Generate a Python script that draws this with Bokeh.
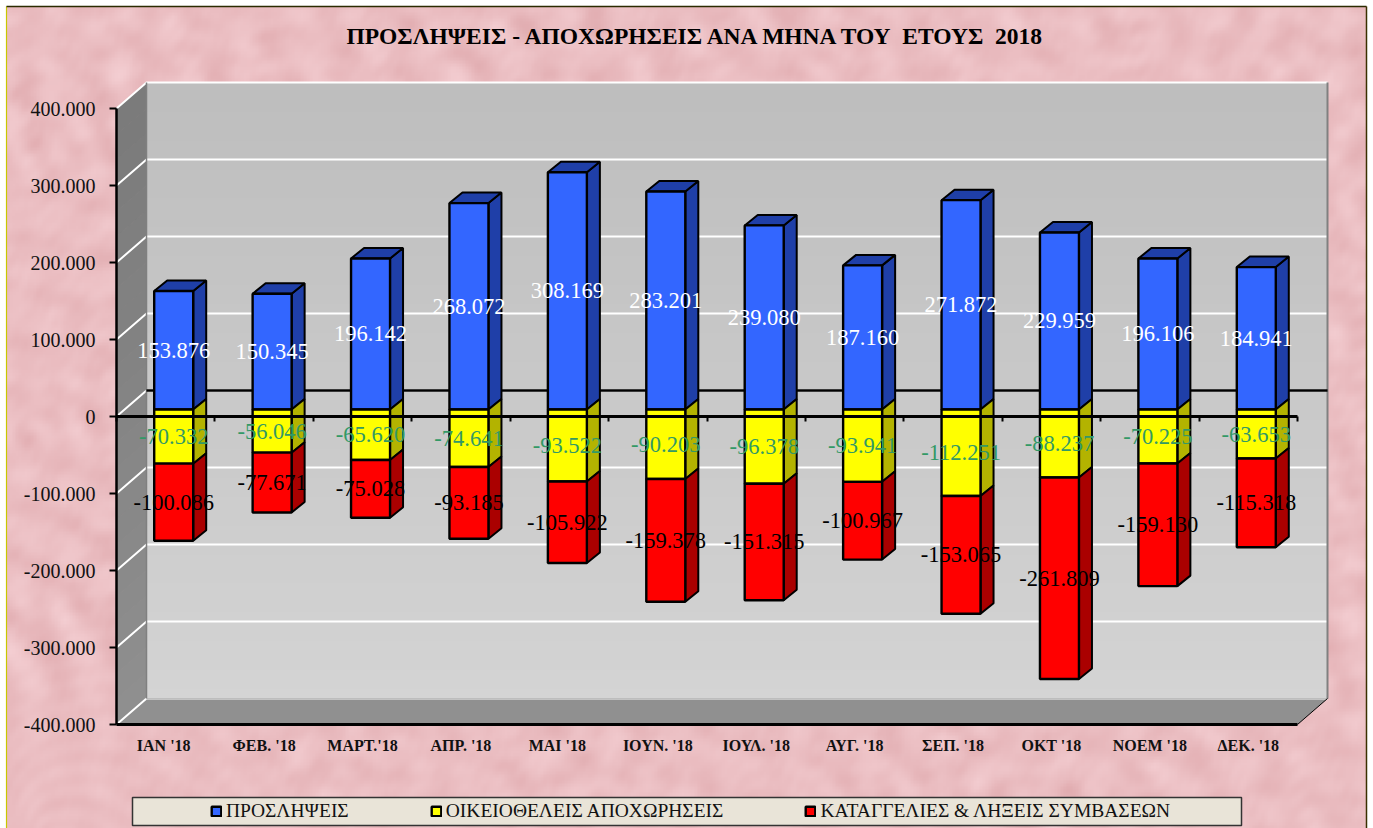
import numpy as np
from bokeh.plotting import figure
from bokeh.models import (Range1d, LinearAxis, FixedTicker, Legend, LegendItem,
                          ColumnDataSource, Label)
from bokeh.core.properties import value
from bokeh.embed import file_html
from bokeh.resources import INLINE

# ---------- data ----------
months = ["ΙΑΝ  '18", "ΦΕΒ. '18", "ΜΑΡΤ.'18", "ΑΠΡ. '18", "ΜΑΙ  '18", "ΙΟΥΝ. '18",
          "ΙΟΥΛ. '18", "ΑΥΓ. '18", "ΣΕΠ. '18", "ΟΚΤ '18", "ΝΟΕΜ '18", "ΔΕΚ. '18"]
hires = [153876, 150345, 196142, 268072, 308169, 283201, 239080, 187160, 271872, 229959, 196106, 184941]
voluntary = [-70332, -56046, -65620, -74641, -93522, -90203, -96378, -93941, -112251, -88237, -70225, -63653]
dismissals = [-100086, -77671, -75028, -93185, -105922, -159378, -151315, -100967, -153065, -261809, -159130, -115318]
y_ticks = [400000, 300000, 200000, 100000, 0, -100000, -200000, -300000, -400000]
y_tick_labels = ["400.000", "300.000", "200.000", "100.000", "0", "-100.000", "-200.000", "-300.000", "-400.000"]
series_names = ["ΠΡΟΣΛΗΨΕΙΣ", "ΟΙΚΕΙΟΘΕΛΕΙΣ ΑΠΟΧΩΡΗΣΕΙΣ", "ΚΑΤΑΓΓΕΛΙΕΣ & ΛΗΞΕΙΣ ΣΥΜΒΑΣΕΩΝ"]
title_text = "ΠΡΟΣΛΗΨΕΙΣ - ΑΠΟΧΩΡΗΣΕΙΣ ΑΝΑ ΜΗΝΑ ΤΟΥ  ΕΤΟΥΣ  2018"

# ---------- layout constants (picture pixels) ----------
W, H = 1373, 828
BG_L, BG_T, BG_R = 6, 6, 1366
X0_PX, Y0_PX = 116, 416          # front-left corner of the plot, y=0 line
PX_CAT, PX_100K = 98.417, 77.0
WALL_DX, WALL_DY = 30, 26
BAR_DX, BAR_DY = 8, 7
SIDE_DX, SIDE_DY = 13, 10.5
BAR_W = 39
SERIF = "Liberation Serif"


def ux(px):
    return px / PX_CAT


def uy(px):
    return px / PX_100K * 100000


def X(px):
    return 0.5 + ux(px - X0_PX)


def Y(px):
    return uy(Y0_PX - px)


p = figure(width=W, height=H, output_backend="svg", toolbar_location=None,
           x_range=Range1d(X(0), X(W)), y_range=Range1d(Y(H), Y(0)),
           x_axis_location=None, y_axis_location=None, min_border=0,
           background_fill_color="#FFFFFF", border_fill_color="#FFFFFF",
           outline_line_color=None)
p.grid.visible = False

# ---------- mottled paper background (deterministic texture) ----------
bw, bh = BG_R - BG_L, H - BG_T
th, tw = bh // 3, bw // 3
yy, xx = np.mgrid[0:th, 0:tw].astype(float) * 3
tex = np.zeros_like(xx)
for i in range(1, 61):
    ang = i * 2.39996
    wl = 9 + 55 * ((i * 0.618034) % 1.0)
    tex += np.sin((xx * np.cos(ang) + yy * np.sin(ang)) * 2 * np.pi / wl + i * 1.7) * (wl / 50.0)
tex = tex / np.abs(tex).max()
r = np.clip(235 + 11 * tex, 0, 255).astype(np.uint32)
g = np.clip(190 + 20 * tex, 0, 255).astype(np.uint32)
b = np.clip(194 + 20 * tex, 0, 255).astype(np.uint32)
img = (255 << 24) | (b << 16) | (g << 8) | r
p.image_rgba(image=[img], x=X(BG_L), y=Y(H), dw=ux(bw), dh=uy(bh))

# ---------- back wall with vertical gradient ----------
y_lo, y_hi = min(y_ticks), max(y_ticks)
back_dx, back_dy = ux(WALL_DX), uy(WALL_DY)
x_lo, x_hi = 0.5, 12.5
levels = np.linspace(0xD4, 0xBE, 64).astype(np.uint32)
wall = np.tile(((255 << 24) | (levels << 16) | (levels << 8) | levels)[:, None], (1, 4))
p.image_rgba(image=[wall], x=x_lo + back_dx, y=y_lo + back_dy, dw=x_hi - x_lo, dh=y_hi - y_lo)

# left wall in bands, floor
n_bands = 24
edges = np.linspace(y_hi, y_lo, n_bands + 1)
shades = np.linspace(0x7B, 0x8F, n_bands).astype(int)
p.patches(xs=[[x_lo, x_lo + back_dx, x_lo + back_dx, x_lo] for _ in range(n_bands)],
          ys=[[edges[i], edges[i] + back_dy, edges[i + 1] + back_dy, edges[i + 1]] for i in range(n_bands)],
          fill_color=["#%02x%02x%02x" % (s, s, s) for s in shades],
          line_color=["#%02x%02x%02x" % (s, s, s) for s in shades], line_width=1)
p.patch(x=[x_lo, x_hi, x_hi + back_dx, x_lo + back_dx],
        y=[y_lo, y_lo, y_lo + back_dy, y_lo + back_dy],
        fill_color="#909090", line_color=None)

# grid lines on the back wall and the left wall
grid_vals = y_ticks
p.multi_line(xs=[[x_lo, x_lo + back_dx, x_hi + back_dx] for _ in grid_vals],
             ys=[[v, v + back_dy, v + back_dy] for v in grid_vals],
             line_color="#FFFFFF", line_width=2)
p.line(x=[x_lo + back_dx, x_hi + back_dx], y=[y_lo + back_dy, y_lo + back_dy], line_color="#BDBDBD", line_width=2)
p.line(x=[x_lo + back_dx, x_lo + back_dx], y=[y_lo + back_dy, y_hi + back_dy], line_color="#808080", line_width=1.5)
p.line(x=[x_hi + back_dx, x_hi + back_dx], y=[y_lo + back_dy, y_hi + back_dy], line_color="#808080", line_width=2)
p.line(x=[x_lo + back_dx, x_hi + back_dx], y=[back_dy, back_dy], line_color="#000000", line_width=2.5)
p.line(x=[x_hi, x_hi + back_dx], y=[y_lo, y_lo + back_dy], line_color="#000000", line_width=1)

# ---------- bars ----------
cats = np.arange(1, 13, dtype=float)
hires_a, vol_a, dis_a = map(np.array, (hires, voluntary, dismissals))
stacks = [
    (np.zeros(12), hires_a, "#3366FF", "#1F3FA8", "#FFFFFF"),
    (np.zeros(12), vol_a, "#FFFF00", "#B3B300", "#339966"),
    (vol_a, vol_a + dis_a, "#FF0000", "#AA0000", "#000000"),
]
left = cats + ux(BAR_DX) - ux(BAR_W) / 2
right = cats + ux(BAR_DX) + ux(BAR_W) / 2
front_r = []
sx, sy = ux(SIDE_DX), uy(SIDE_DY)
bar_off = uy(BAR_DY)
for (v0, v1, col, dark, tc) in stacks:
    lo, hi = np.minimum(v0, v1) + bar_off, np.maximum(v0, v1) + bar_off
    xs_side = [[r_, r_ + sx, r_ + sx, r_] for r_ in right]
    ys_side = [[h, h + sy, l + sy, l] for h, l in zip(hi, lo)]
    p.patches(xs=xs_side, ys=ys_side, fill_color=dark, line_color="#000000", line_width=2)
    if col == "#3366FF":
        p.patches(xs=[[l_, l_ + sx, r_ + sx, r_] for l_, r_ in zip(left, right)],
                  ys=[[h, h + sy, h + sy, h] for h in hi],
                  fill_color=dark, line_color="#000000", line_width=2)
    src = ColumnDataSource(dict(left=left, right=right, top=hi, bottom=lo))
    front_r.append(p.quad(left="left", right="right", top="top", bottom="bottom", source=src,
                          fill_color=col, line_color="#000000", line_width=2.4))

# ---------- axes ----------
yax = LinearAxis(fixed_location=x_lo, bounds=(y_lo, y_hi), ticker=FixedTicker(ticks=y_ticks),
                 major_label_overrides=dict(zip(y_ticks, y_tick_labels)),
                 major_tick_out=7, major_tick_in=0, minor_tick_line_color=None,
                 axis_line_color="#000000", axis_line_width=2.5, major_tick_line_color="#000000",
                 major_tick_line_width=2, major_label_standoff=14,
                 major_label_text_font=SERIF, major_label_text_font_size="20px",
                 major_label_text_color="#111111")
p.add_layout(yax, "left")

boundaries = [0.5 + i for i in range(13)]
zero = LinearAxis(fixed_location=0, bounds=(x_lo, x_hi), ticker=FixedTicker(ticks=boundaries),
                  major_label_overrides={b_: "" for b_ in boundaries},
                  major_tick_out=5, major_tick_in=0, minor_tick_line_color=None,
                  axis_line_color="#000000", axis_line_width=3,
                  major_tick_line_color="#000000", major_tick_line_width=2)
p.add_layout(zero, "below")

xax = LinearAxis(fixed_location=y_lo, bounds=(x_lo, x_hi), ticker=FixedTicker(ticks=list(range(1, 13))),
                 major_label_overrides=dict(zip(range(1, 13), months)),
                 major_tick_out=0, major_tick_in=0, minor_tick_line_color=None,
                 axis_line_color="#000000", axis_line_width=3, major_tick_line_color=None,
                 major_label_standoff=12, major_label_text_font=SERIF, major_label_text_font_size="16px",
                 major_label_text_font_style="bold", major_label_text_color="#111111")
p.add_layout(xax, "below")

# ---------- value labels ----------
for (v0, v1, col, dark, tc), vals in zip(stacks, (hires, voluntary, dismissals)):
    txt = [f"{v:,}".replace(",", ".") for v in vals]
    p.text(x=cats + ux(BAR_DX), y=(v0 + v1) / 2 + bar_off, text=txt, text_align="center",
           text_baseline="middle", text_color=tc, text_font=value(SERIF), text_font_size="22.5px")

# ---------- title ----------
p.add_layout(Label(x=X(696.5), y=Y(35), text=title_text.replace("  ", "\u00a0\u00a0"), text_align="center",
                   text_baseline="middle", text_font=SERIF, text_font_size="23.5px", text_font_style="bold",
                   text_color="#000000"))

# ---------- legend box and legend ----------
p.quad(left=X(132), right=X(1241), top=Y(797), bottom=Y(825), fill_color="#E9E4D8",
       line_color="#333333", line_width=1.5)
legend = Legend(items=[LegendItem(label=n, renderers=[r_]) for n, r_ in zip(series_names, front_r)],
                orientation="horizontal", location=(210, H - 825 + 3),
                background_fill_alpha=0, border_line_color=None, padding=3, margin=0,
                spacing=81, glyph_width=12, glyph_height=12, label_standoff=4,
                label_text_font=SERIF, label_text_font_size="19.5px", label_text_color="#111111")
p.add_layout(legend)

# ---------- outer picture border ----------
p.line(x=[X(BG_L), X(BG_L)], y=[Y(BG_T), Y(H)], line_color="#C8C800", line_width=1.2)
p.line(x=[X(BG_L), X(BG_R)], y=[Y(BG_T), Y(BG_T)], line_color="#2B2B00", line_width=1.5)
p.line(x=[X(BG_R), X(BG_R)], y=[Y(BG_T), Y(H)], line_color="#3A3000", line_width=1.5)

open("out.html", "w").write(file_html(p, INLINE))
